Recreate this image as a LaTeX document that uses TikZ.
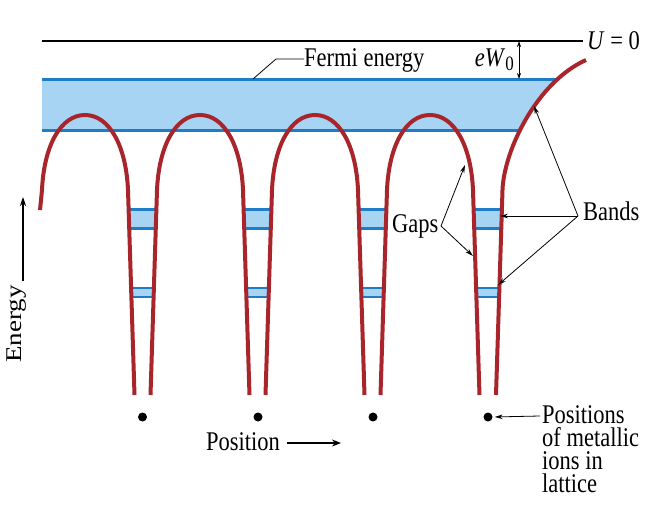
\documentclass[tikz,border=0pt]{standalone}
\usepackage{fontspec}
\usepackage{graphicx}
\setmainfont{Liberation Serif}
\usetikzlibrary{arrows.meta}
\definecolor{wallred}{HTML}{A8262B}
\definecolor{bandblue}{HTML}{1F7CC6}
\definecolor{bandfill}{HTML}{A8D4F4}
\newcommand{\tall}[1]{\scalebox{1}[1.2]{#1}}
\begin{document}
\begin{tikzpicture}[x=1pt,y=-1pt,
  wall/.style={draw=wallred,line width=4pt},
  bandline/.style={draw=bandblue,line width=3pt},
  thinband/.style={draw=bandblue,line width=2.5pt},
  lbl/.style={font=\fontsize{22.5}{19.2}\selectfont, inner sep=0pt},
  ptr/.style={line width=0.8pt,-{Stealth[length=8pt,width=4.5pt]}},
  ion/.style={circle,fill=black,inner sep=0pt,minimum size=9pt}]
\useasboundingbox (0,0) rectangle (662,514);
\fill[white] (0,0) rectangle (662,514);

% Fermi sea band
\begin{scope}
  \clip (0,0) -- (0,300) -- (502.5,190) .. controls (504,150) and (537,82) .. (586,60) -- (586,0) -- cycle;
  \fill[bandfill] (42,79) rectangle (600,130);
  \draw[bandline] (42,79) -- (600,79);
  \draw[bandline] (42,130) -- (600,130);
\end{scope}

% bands in wells
\foreach \c in {142.5,257.5,373,488}{
  \fill[bandfill] (\c-14,209) rectangle (\c+14,228);
  \draw[bandline] (\c-14,209) -- (\c+14,209);
  \draw[bandline] (\c-14,228) -- (\c+14,228);
  \fill[bandfill] (\c-11.5,288) rectangle (\c+11.5,297);
  \draw[thinband] (\c-11.5,288) -- (\c+11.5,288);
  \draw[thinband] (\c-11.5,297) -- (\c+11.5,297);
}

% potential curves
\draw[wall] (40,210) -- (42,190) .. controls (44,145) and (61,115) .. (85,115)
  .. controls (109,115) and (126,145) .. (128,190) -- (134.5,395);
\foreach \p in {200,315,430}{
  \draw[wall] (\p-49.5,395) -- (\p-43,190) .. controls (\p-41,145) and (\p-24,115) .. (\p,115)
    .. controls (\p+24,115) and (\p+41,145) .. (\p+43,190) -- (\p+49.5,395);
}
\draw[wall] (496,395) -- (502.5,190) .. controls (504,150) and (537,82) .. (586,60);

% vacuum level
\coordinate (u0) at (42,41);
\coordinate (u1) at (583,41);
\draw[line width=1.5pt] (u0) -- (u1);
\node[lbl,anchor=base west] (ulabel) at (587,49) {\tall{\textit{U} = 0}};

% work function
\coordinate (w0) at (519,41);
\coordinate (w1) at (519,79);
\draw[line width=0.8pt,{Stealth[length=6pt,width=4pt]}-{Stealth[length=6pt,width=4pt]}] (w0) -- (w1);
\node[lbl,anchor=base east] (ew) at (514,66) {\tall{\textit{eW}\raisebox{-0.4ex}{\fontsize{17}{17}\selectfont 0}}};

% Fermi energy label
\node[lbl,anchor=base west] (fermi) at (304,66) {\tall{Fermi energy}};
\coordinate (f0) at (253,79);
\coordinate (f1) at (276,59);
\draw[line width=0.8pt] (f0) -- (f1) -- (fermi.west |- f1);

% Gaps
\node[lbl,anchor=base west] (gaps) at (392,232) {\tall{Gaps}};
\coordinate (g0) at (441,226);
\coordinate (g1) at (465,165);
\coordinate (g2) at (473,256);
\draw[ptr] (g0) -- (g1);
\draw[ptr] (g0) -- (g2);

% Bands
\node[lbl,anchor=base west] (bands) at (583,220) {\tall{Bands}};
\coordinate (b0) at (578,216);
\coordinate (b1) at (534,106);
\coordinate (b2) at (500,216);
\coordinate (b3) at (498,285);
\draw[ptr] (b0) -- (b1);
\draw[ptr] (b0) -- (b2);
\draw[ptr] (b0) -- (b3);

% ions
\node[ion] (i1) at (142.5,417) {};
\node[ion] (i2) at (258,417) {};
\node[ion] (i3) at (373,417) {};
\node[ion] (i4) at (488,417) {};
\node[lbl,anchor=base west] (ions) at (542,423)
  {\tall{\vtop{\baselineskip=19.2pt\lineskiplimit=-100pt\hbox{Positions}\hbox{of metallic}\hbox{ions in}\hbox{lattice}}}};
\coordinate (p0) at (540,416);
\draw[ptr,shorten >=2pt] (p0) -- (i4.east);

% Position axis
\node[lbl,anchor=base west] (pos) at (206,450) {\tall{Position}};
\coordinate (x0) at (287,443);
\coordinate (x1) at (341,443);
\draw[line width=2pt,-{Stealth[length=9pt,width=7pt]}] (x0) -- (x1);

% Energy axis
\node[lbl,rotate=90] (energy) at (17,324) {\scalebox{1.2}[1]{Energy}};
\coordinate (e0) at (23,281);
\coordinate (e1) at (23,197);
\draw[line width=1.2pt,-{Stealth[length=9pt,width=6pt]}] (e0) -- (e1);
\end{tikzpicture}
\end{document}
